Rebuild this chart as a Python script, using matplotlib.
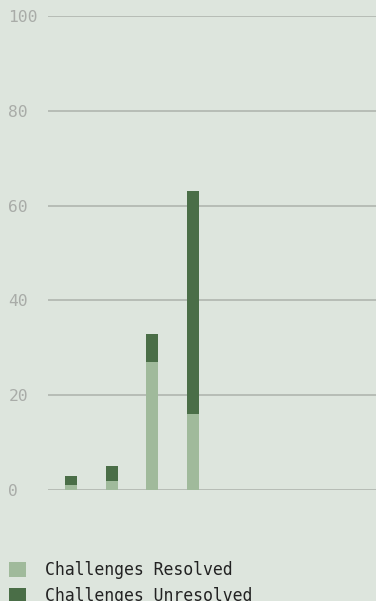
import numpy as np
import matplotlib.pyplot as plt

# stacked counts per period
periods = ["P1", "P2", "P3", "P4"]
resolved = [1, 2, 27, 16]
unresolved = [2, 3, 6, 47]
series_labels = ["Challenges Resolved", "Challenges Unresolved"]
y_ticks = [0, 20, 40, 60, 80, 100]

bg = "#dde5dd"
c_resolved = "#a0ba9b"
c_unresolved = "#4a6e47"

plt.rcParams['font.family'] = ['DejaVu Sans Mono']

W, H = 376, 601
fig = plt.figure(figsize=(W / 100, H / 100), dpi=100, facecolor=bg)
ax = fig.add_axes([48 / W, (H - 490) / H, 328 / W, 474 / H], facecolor=bg)

x = np.arange(len(periods))
ax.bar(x, resolved, width=0.3, color=c_resolved, label=series_labels[0], zorder=3)
ax.bar(x, unresolved, width=0.3, bottom=resolved, color=c_unresolved,
       label=series_labels[1], zorder=3)

ax.set_ylim(0, 100)
ax.set_xlim(-0.57, 7.51)
ax.set_yticks(y_ticks)
ax.set_xticks([])
ax.grid(axis='y', color='#b0b5af', linewidth=1.2, zorder=0)
ax.tick_params(axis='y', length=0, pad=28.5, labelsize=11.8, labelcolor='#a9aca8')
for lbl in ax.get_yticklabels():
    lbl.set_horizontalalignment('left')
    lbl.set_va('center_baseline')
for s in ax.spines.values():
    s.set_visible(False)

handles, labels = ax.get_legend_handles_labels()
fig.legend(handles, labels, loc='upper left', bbox_to_anchor=(9 / W, 1 - 561 / H),
           frameon=False, borderpad=0, borderaxespad=0, fontsize=11.9,
           handlelength=1.0, handleheight=1.0, handletextpad=1.15,
           labelspacing=0.5, labelcolor='#222222')

fig.savefig("out.png", dpi=100, facecolor=bg)
